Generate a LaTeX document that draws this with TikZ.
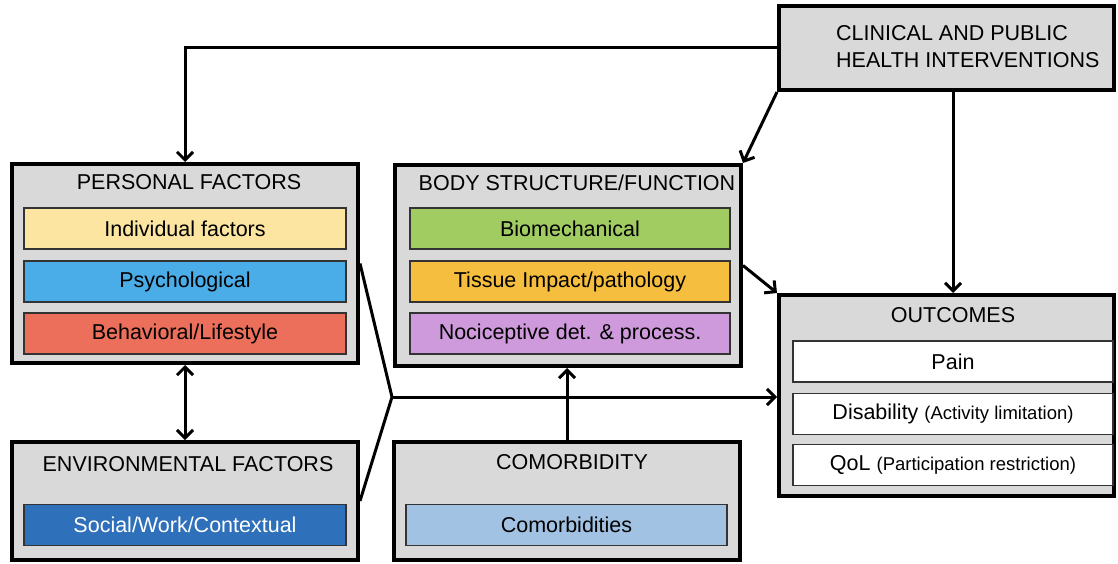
\documentclass[tikz,border=0pt]{standalone}
\usepackage{fontspec}
\setmainfont{Liberation Sans}
\usetikzlibrary{arrows.meta,calc}
\definecolor{boxgray}{HTML}{D9D9D9}
\definecolor{cindiv}{HTML}{FBE5A0}
\definecolor{cpsych}{HTML}{4AADE8}
\definecolor{cbehav}{HTML}{EB6F5A}
\definecolor{cbio}{HTML}{A0CC62}
\definecolor{ctissue}{HTML}{F5BE3F}
\definecolor{cnoci}{HTML}{CF9ADC}
\definecolor{csocial}{HTML}{2E70B9}
\definecolor{ccomorb}{HTML}{A2C2E3}
\tikzset{
  outerbox/.style={draw=black, line width=4pt, fill=boxgray, inner sep=0pt},
  innerbox/.style={draw=black!80, line width=1.3pt, inner sep=0pt, minimum height=41pt, font=\fontsize{21.5}{25}\selectfont},
  titletext/.style={inner sep=0pt, font=\fontsize{21.5}{25}\selectfont},
  conn/.style={line width=3pt, -{Straight Barb[length=8pt,width=16pt,line width=3pt]}},
  dconn/.style={line width=3pt, {Straight Barb[length=8pt,width=16pt,line width=3pt]}-{Straight Barb[length=8pt,width=16pt,line width=3pt]}},
  plain/.style={line width=3pt},
}
\begin{document}
\begin{tikzpicture}[x=1pt,y=-1pt]
\useasboundingbox (0,0) rectangle (1118,564);
% outer boxes
\node[outerbox, minimum width=346pt, minimum height=199pt] (pers) at (185,263.5) {};
\node[outerbox, minimum width=346pt, minimum height=201pt] (body) at (568,265.5) {};
\node[outerbox, minimum width=335pt, minimum height=84pt] (clin) at (946.5,48) {};
\node[outerbox, minimum width=335pt, minimum height=201pt] (out) at (946.5,395.5) {};
\node[outerbox, minimum width=346pt, minimum height=118pt] (env) at (185,501) {};
\node[outerbox, minimum width=346pt, minimum height=118pt] (com) at (567,501) {};
% titles
\node[titletext] (perst) at (189,182) {PERSONAL FACTORS};
\node[titletext] (bodyt) at (577,183) {BODY STRUCTURE/FUNCTION};
\node[titletext, anchor=west, align=left, font=\fontsize{21.5}{27}\selectfont] (clint) at (836,47) {CLINICAL AND PUBLIC\\HEALTH INTERVENTIONS};
\node[titletext] (outt) at (953,315) {OUTCOMES};
\node[titletext] (envt) at (188,464) {ENVIRONMENTAL FACTORS};
\node[titletext] (comt) at (572,462) {COMORBIDITY};
% inner boxes
\node[innerbox, fill=cindiv, minimum width=322pt] (indiv) at (185,228.5) {Individual factors};
\node[innerbox, fill=cpsych, minimum width=322pt] (psych) at (185,281.5) {Psychological};
\node[innerbox, fill=cbehav, minimum width=322pt] (behav) at (185,333.5) {Behavioral/Lifestyle};
\node[innerbox, fill=cbio, minimum width=320pt] (bio) at (570,228.5) {Biomechanical};
\node[innerbox, fill=ctissue, minimum width=320pt] (tissue) at (570,281.5) {Tissue Impact/pathology};
\node[innerbox, fill=cnoci, minimum width=320pt] (noci) at (570,333.5) {Nociceptive det. \& process.};
\node[innerbox, fill=white, minimum width=320pt] (pain) at (953,361.5) {Pain};
\node[innerbox, fill=white, minimum width=320pt] (disab) at (953,414) {Disability {\fontsize{18.5}{22}\selectfont(Activity limitation)}};
\node[innerbox, fill=white, minimum width=320pt] (qol) at (953,465) {QoL {\fontsize{18.5}{22}\selectfont(Participation restriction)}};
\node[innerbox, fill=csocial, text=white, minimum width=322pt] (social) at (185,525) {Social/Work/Contextual};
\node[innerbox, fill=ccomorb, minimum width=321pt] (comorbs) at (566.5,525) {Comorbidities};
% connectors
\coordinate (j) at (392,397);
\draw[conn] (clin.west) -| (pers.north);
\draw[conn] (clin.south west) -- (body.north east);
\draw[conn] (pain.north |- clin.south) -- (pain.north |- out.north);
\draw[conn] (body.east) -- (out.north west);
\draw[dconn] (pers.south) -- (env.north);
\draw[plain, line join=miter] (pers.east) -- (j) -- (env.east);
\draw[conn] (j) -- (j -| out.west);
\draw[conn] (com.north) -- (com.north |- body.south);
\end{tikzpicture}
\end{document}
